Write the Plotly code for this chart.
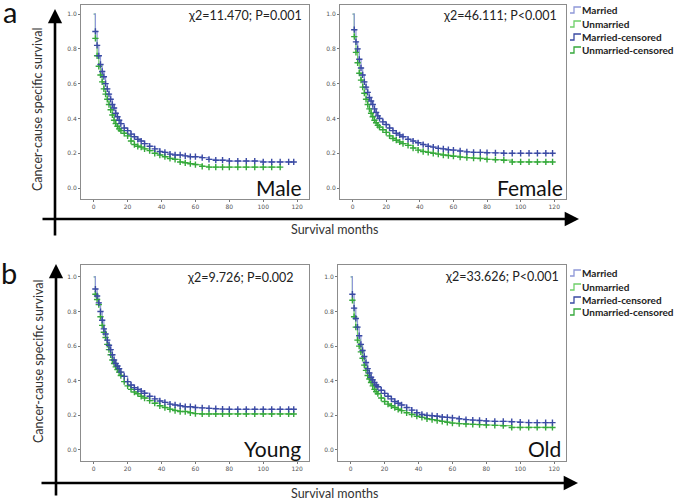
import plotly.graph_objects as go

W, H = 675, 501

# ---------------- data ----------------
MONTHS = [0, 1, 2, 3, 4, 5, 6, 7, 8, 9, 10, 11, 12, 13, 14, 15, 16,
          18, 20, 22, 24, 26, 28, 30,
          33, 36, 39, 42, 45, 48, 51, 54, 57, 60,
          64, 68, 72, 76, 80,
          85, 90, 95, 100, 105, 110, 115, 119]

male_married_t = MONTHS[:-1] + [118]
male_married = [1.0, 0.90, 0.82, 0.76, 0.71, 0.67, 0.64, 0.60, 0.57, 0.54, 0.51, 0.48, 0.46, 0.43, 0.41, 0.39, 0.37,
                0.345, 0.33, 0.31, 0.295, 0.28, 0.27, 0.255,
                0.24, 0.225, 0.21, 0.205, 0.195, 0.19, 0.19, 0.185, 0.18, 0.18,
                0.175, 0.165, 0.16, 0.16, 0.155,
                0.155, 0.155, 0.155, 0.15, 0.15, 0.15, 0.15,
                0.15]
male_unmarried_t = MONTHS[:45]
male_unmarried = [1.0, 0.86, 0.76, 0.70, 0.65, 0.61, 0.57, 0.54, 0.51, 0.48, 0.45, 0.42, 0.39, 0.37, 0.355, 0.34, 0.33,
                  0.315, 0.30, 0.27, 0.25, 0.24, 0.235, 0.225,
                  0.215, 0.20, 0.19, 0.18, 0.17, 0.165, 0.15, 0.145, 0.14, 0.135,
                  0.125, 0.12, 0.12, 0.12, 0.12,
                  0.12, 0.12, 0.12, 0.12, 0.12, 0.12]

female_married_t = MONTHS
female_married = [1.0, 0.91, 0.84, 0.80, 0.74, 0.69, 0.65, 0.61, 0.58, 0.55, 0.52, 0.50, 0.48, 0.455, 0.435, 0.415, 0.40,
                  0.38, 0.365, 0.345, 0.33, 0.315, 0.305, 0.295,
                  0.28, 0.27, 0.26, 0.25, 0.24, 0.235, 0.228, 0.225, 0.22, 0.218,
                  0.213, 0.208, 0.205, 0.205, 0.203,
                  0.202, 0.20, 0.20, 0.20, 0.20, 0.20, 0.20,
                  0.20]
female_unmarried_t = MONTHS
female_unmarried = [1.0, 0.87, 0.78, 0.72, 0.66, 0.62, 0.58, 0.545, 0.51, 0.48, 0.455, 0.43, 0.41, 0.39, 0.375, 0.36, 0.35,
                    0.335, 0.32, 0.30, 0.285, 0.275, 0.265, 0.255,
                    0.245, 0.23, 0.218, 0.21, 0.205, 0.20, 0.195, 0.19, 0.187, 0.183,
                    0.178, 0.175, 0.172, 0.17, 0.165,
                    0.163, 0.16, 0.15, 0.15, 0.15, 0.15, 0.15,
                    0.15]

young_married_t = MONTHS[:-1] + [118]
young_married = [1.0, 0.93, 0.89, 0.85, 0.80, 0.75, 0.70, 0.67, 0.635, 0.605, 0.58, 0.55, 0.52, 0.50, 0.485, 0.47, 0.45,
                 0.425, 0.395, 0.375, 0.36, 0.35, 0.34, 0.328,
                 0.31, 0.295, 0.283, 0.275, 0.265, 0.26, 0.255, 0.25, 0.25, 0.245,
                 0.243, 0.24, 0.238, 0.236, 0.235,
                 0.235, 0.235, 0.235, 0.235, 0.235, 0.235, 0.235,
                 0.235]
young_unmarried_t = MONTHS[:-1] + [118]
young_unmarried = [1.0, 0.90, 0.87, 0.84, 0.77, 0.72, 0.68, 0.65, 0.61, 0.58, 0.55, 0.52, 0.50, 0.48, 0.465, 0.45, 0.43,
                   0.395, 0.37, 0.35, 0.335, 0.325, 0.31, 0.30,
                   0.285, 0.27, 0.255, 0.245, 0.235, 0.228, 0.222, 0.222, 0.215, 0.21,
                   0.208, 0.208, 0.208, 0.208, 0.208,
                   0.208, 0.208, 0.208, 0.208, 0.208, 0.208, 0.208,
                   0.208]

old_married_t = MONTHS
old_married = [1.0, 0.90, 0.82, 0.76, 0.71, 0.66, 0.61, 0.575, 0.54, 0.505, 0.47, 0.445, 0.42, 0.405, 0.39, 0.375, 0.365,
               0.345, 0.327, 0.31, 0.295, 0.28, 0.27, 0.26,
               0.245, 0.23, 0.215, 0.205, 0.20, 0.198, 0.195, 0.19, 0.188, 0.185,
               0.18, 0.175, 0.172, 0.17, 0.167,
               0.165, 0.165, 0.163, 0.16, 0.158, 0.158, 0.158,
               0.158]
old_unmarried_t = MONTHS
old_unmarried = [1.0, 0.865, 0.77, 0.71, 0.635, 0.60, 0.567, 0.53, 0.49, 0.46, 0.43, 0.41, 0.39, 0.37, 0.35, 0.337, 0.325,
                 0.30, 0.28, 0.265, 0.255, 0.245, 0.235, 0.227,
                 0.215, 0.205, 0.195, 0.188, 0.18, 0.175, 0.17, 0.165, 0.16, 0.155,
                 0.152, 0.15, 0.148, 0.146, 0.144,
                 0.142, 0.14, 0.13, 0.13, 0.13, 0.13, 0.13,
                 0.13]

PANEL_NAMES = ["Male", "Female", "Young", "Old"]
CHI_TEXT = ["χ2=11.470; P=0.001", "χ2=46.111; P<0.001", "χ2=9.726; P=0.002", "χ2=33.626; P<0.001"]
LEGEND_LABELS = ["Married", "Unmarried", "Married-censored", "Unmarried-censored"]
X_TICKS = [0, 20, 40, 60, 80, 100, 120]
Y_TICKS = [0.0, 0.2, 0.4, 0.6, 0.8, 1.0]
Y_TITLE = "Cancer-cause specific survival"
X_TITLE = "Survival months"

CURVES = [
    (male_married_t, male_married, male_unmarried_t, male_unmarried),
    (female_married_t, female_married, female_unmarried_t, female_unmarried),
    (young_married_t, young_married, young_unmarried_t, young_unmarried),
    (old_married_t, old_married, old_unmarried_t, old_unmarried),
]

# ---------------- styling / layout ----------------
BLUE_LINE, BLUE_MARK = "#8f98d8", "#3a4aa3"
GREEN_LINE, GREEN_MARK = "#6fcf6a", "#35a83b"
FONT = "Lato"


def px(x):
    return x / W


def py(y):
    return 1 - y / H


# panel boxes in pixels: (x0, x1, y0, y1)
BOXES = [(81, 309, 5, 199), (340, 566, 5, 199), (81, 309, 265, 461), (338, 566, 265, 461)]
Y_RANGES = [[-0.063, 1.052], [-0.063, 1.052], [-0.064, 1.069], [-0.064, 1.069]]

fig = go.Figure()
layout = dict(width=W, height=H, margin=dict(l=0, r=0, t=0, b=0),
              paper_bgcolor="white", plot_bgcolor="white", showlegend=False,
              font=dict(family=FONT, color="#222"))

for i, (mt, mv, ut, uv) in enumerate(CURVES):
    sfx = "" if i == 0 else str(i + 1)
    xa, ya = "x" + sfx, "y" + sfx
    x0, x1, y0, y1 = BOXES[i]
    layout["xaxis" + sfx] = dict(domain=[px(x0), px(x1)], anchor=ya, range=[-7.5, 127],
                                 tickvals=X_TICKS, ticks="outside", ticklen=2, tickcolor="#777",
                                 showline=True, linecolor="#8c8c8c", linewidth=1, mirror=True,
                                 showgrid=False, zeroline=False,
                                 tickfont=dict(size=6, color="#555", family="DejaVu Sans"))
    layout["yaxis" + sfx] = dict(domain=[py(y1), py(y0)], anchor=xa, range=Y_RANGES[i],
                                 tickvals=Y_TICKS, tickformat=".1f", ticks="outside", ticklen=2,
                                 tickcolor="#777", showline=True, linecolor="#8c8c8c", linewidth=1,
                                 mirror=True, showgrid=False, zeroline=False,
                                 tickfont=dict(size=6, color="#555", family="DejaVu Sans"))
    # step lines
    fig.add_trace(go.Scatter(x=ut, y=uv, mode="lines", line=dict(shape="hv", color=GREEN_LINE, width=1.2),
                             xaxis=xa, yaxis=ya, name="Unmarried"))
    fig.add_trace(go.Scatter(x=mt, y=mv, mode="lines", line=dict(shape="hv", color=BLUE_LINE, width=1.2),
                             xaxis=xa, yaxis=ya, name="Married"))
    # censor marks
    fig.add_trace(go.Scatter(x=ut[1:], y=uv[1:], mode="markers", xaxis=xa, yaxis=ya, name="Unmarried-censored",
                             marker=dict(symbol="cross-thin", size=4.5, line=dict(color=GREEN_MARK, width=1.4))))
    fig.add_trace(go.Scatter(x=mt[1:], y=mv[1:], mode="markers", xaxis=xa, yaxis=ya, name="Married-censored",
                             marker=dict(symbol="cross-thin", size=4.5, line=dict(color=BLUE_MARK, width=1.4))))

fig.update_layout(**layout)

ann = []
shapes = []

# chi-square texts
CHI_POS = [(304, 15), (559, 15), (296, 277), (561, 276)]
for (x, y), t in zip(CHI_POS, CHI_TEXT):
    ann.append(dict(xref="paper", yref="paper", x=px(x), y=py(y), xanchor="right", yanchor="middle",
                    text=t, showarrow=False, font=dict(size=12.5, color="#222", family=FONT)))

# big panel names
NAME_POS = [(304, 187), (565, 187), (303, 448), (563, 448)]
for (x, y), t in zip(NAME_POS, PANEL_NAMES):
    ann.append(dict(xref="paper", yref="paper", x=px(x), y=py(y), xanchor="right", yanchor="middle",
                    text=t, showarrow=False, font=dict(size=21, color="#111", family=FONT)))

# row letters
for (x, y), t in zip([(10, 11), (9, 272)], ["a", "b"]):
    ann.append(dict(xref="paper", yref="paper", x=px(x), y=py(y), xanchor="center", yanchor="middle",
                    text=t, showarrow=False, borderpad=0, font=dict(size=29, color="#111", family=FONT)))

# axis titles
for yc in [109, 361]:
    ann.append(dict(xref="paper", yref="paper", x=px(38), y=py(yc), xanchor="center", yanchor="middle",
                    text=Y_TITLE, textangle=-90, showarrow=False,
                    font=dict(size=12.5, color="#333", family=FONT)))
for yc in [230, 493]:
    ann.append(dict(xref="paper", yref="paper", x=px(334), y=py(yc), xanchor="center", yanchor="middle",
                    text=X_TITLE, showarrow=False, borderpad=0, font=dict(size=12.5, color="#333", family=FONT)))

# big arrows
ARROWS = [((55, 9), (55, 237)), ((579, 219), (41, 219)), ((56, 264), (56, 497)), ((578, 483), (40, 483))]
for (tx, ty), (sx, sy) in ARROWS:
    ann.append(dict(xref="paper", yref="paper", x=px(tx), y=py(ty), ax=sx - tx, ay=sy - ty,
                    text="", showarrow=True, arrowhead=2, arrowsize=1.1, arrowwidth=2.6, arrowcolor="#000"))

# manual legends
LEG_ROWS = [[10, 24, 37, 50], [273, 287, 300, 312]]
LEG_COLORS = [BLUE_LINE, GREEN_LINE, BLUE_MARK, GREEN_MARK]
for rows in LEG_ROWS:
    for yc, lab, col in zip(rows, LEGEND_LABELS, LEG_COLORS):
        path = "M {} {} L {} {} L {} {} L {} {}".format(
            px(570), py(yc + 3), px(574), py(yc + 3), px(574), py(yc - 3), px(581), py(yc - 3))
        shapes.append(dict(type="path", xref="paper", yref="paper", path=path,
                           line=dict(color=col, width=1.3)))
        ann.append(dict(xref="paper", yref="paper", x=px(581), y=py(yc), xanchor="left", yanchor="middle",
                        text="<b>" + lab + "</b>", showarrow=False, borderpad=0,
                        font=dict(size=10, color="#222", family=FONT)))

fig.update_layout(annotations=ann, shapes=shapes)
fig.write_html("out.html", config={"displayModeBar": False},
               post_script="document.body.style.margin='0';document.body.style.overflow='hidden';")
